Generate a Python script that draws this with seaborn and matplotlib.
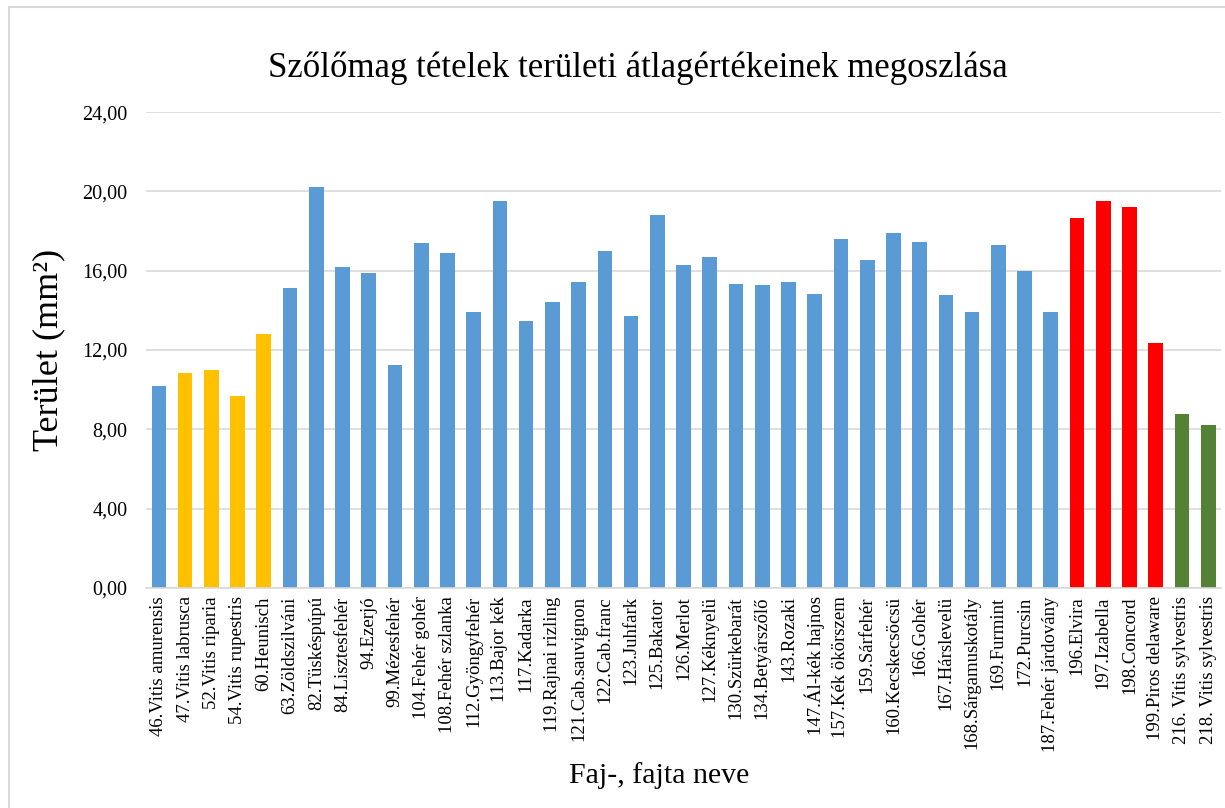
import matplotlib
matplotlib.use('Agg')
import matplotlib.pyplot as plt
from matplotlib.ticker import FuncFormatter, MultipleLocator
from matplotlib.patches import Rectangle
import seaborn as sns
import pandas as pd

# fajták / tételek
labels = [
    '46.Vitis amurensis', '47.Vitis labrusca', '52.Vitis riparia', '54.Vitis rupestris',
    '60.Heunisch', '63.Zöldszilváni', '82.Tüskéspúpú', '84.Lisztesfehér', '94.Ezerjó',
    '99.Mézesfehér', '104.Fehér gohér', '108.Fehér szlanka', '112.Gyöngyfehér',
    '113.Bajor kék', '117.Kadarka', '119.Rajnai rizling', '121.Cab.sauvignon',
    '122.Cab.franc', '123.Juhfark', '125.Bakator', '126.Merlot', '127.Kéknyelü',
    '130.Szürkebarát', '134.Betyárszőlő', '143.Rozaki', '147.Ál-kék hajnos',
    '157.Kék ökörszem', '159.Sárfehér', '160.Kecskecsöcsü', '166.Gohér',
    '167.Hárslevelü', '168.Sárgamuskotály', '169.Furmint', '172.Purcsin',
    '187.Fehér járdovány', '196.Elvira', '197.Izabella', '198.Concord',
    '199.Piros delaware', '216. Vitis sylvestris', '218. Vitis sylvestris',
]

# területi átlagértékek (mm2)
values = [
    10.21, 10.83, 10.97, 9.66, 12.83, 15.15, 20.22, 16.17, 15.88, 11.23,
    17.38, 16.88, 13.94, 19.53, 13.47, 14.44, 15.42, 17.01, 13.70, 18.83,
    16.31, 16.68, 15.33, 15.30, 15.42, 14.81, 17.62, 16.54, 17.90, 17.43,
    14.78, 13.94, 17.28, 15.98, 13.94, 18.64, 19.51, 19.19, 12.36, 8.75, 8.23,
]

groups = (['vinifera'] + ['amerikai'] * 4 + ['vinifera'] * 30
          + ['hibrid'] * 4 + ['sylvestris'] * 2)

palette = {
    'vinifera': '#5B9BD5',
    'amerikai': '#FFC000',
    'hibrid': '#FF0000',
    'sylvestris': '#548235',
}

df = pd.DataFrame({'fajta': labels, 'terulet': values, 'csoport': groups})

plt.rcParams['font.family'] = ['Liberation Serif', 'DejaVu Serif']

fig = plt.figure(figsize=(12.25, 8.08), dpi=100)
ax = fig.add_axes([0.119, 0.2723, 0.878, 0.589])

sns.barplot(data=df, x='fajta', y='terulet', hue='csoport', palette=palette,
            dodge=False, width=0.56, legend=False, saturation=1, ax=ax)

ax.set_ylim(0, 24)
ax.set_xlim(-0.5, len(labels) - 0.5)
ax.yaxis.set_major_locator(MultipleLocator(4))
ax.yaxis.set_major_formatter(FuncFormatter(lambda v, p: f'{v:.2f}'.replace('.', ',')))
ax.grid(axis='y', color='#D9D9D9', linewidth=1.2)
ax.set_axisbelow(True)

for side in ['top', 'right', 'left']:
    ax.spines[side].set_visible(False)
ax.spines['bottom'].set_color('#D9D9D9')
ax.spines['bottom'].set_linewidth(1.2)

ax.tick_params(axis='y', length=0, pad=13, labelsize=14.5)
ax.tick_params(axis='x', length=0, pad=6, labelsize=13.5, rotation=90)

ax.set_xlabel('Faj-, fajta neve', fontsize=21.5)
ax.xaxis.set_label_coords(0.477, -0.366)
ax.set_ylabel('Terület (mm²)', fontsize=26, labelpad=12)

fig.text(0.521, 0.916, 'Szőlőmag tételek területi átlagértékeinek megoszlása',
         ha='center', va='center', fontsize=25)

# diagram keret
fig.patches.append(Rectangle((9 / 1225, -0.1), 1.2, 1 - 7 / 808 + 0.1,
                             transform=fig.transFigure, fill=False,
                             edgecolor='#D9D9D9', linewidth=1.5))

fig.savefig('out.png', dpi=100)
